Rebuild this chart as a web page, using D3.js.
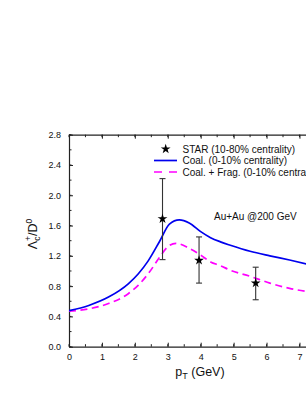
<!DOCTYPE html>
<html lang="en">
<head>
    <meta charset="UTF-8">
    <script src="https://d3js.org/d3.v7.min.js"></script>
    <style>
        body { margin: 0; background: #fff; }
        svg { display: block; font-family: "Liberation Sans", Arial, sans-serif; }
    </style>
</head>
<body>
<script>
    // ---------- data ----------
    const coalPt  = [0, 0.6, 1.2, 1.8, 2.1, 2.4, 2.75, 3.05, 3.35, 3.65, 4.0, 4.3, 4.6, 4.9, 5.5, 6.1, 6.7, 7.3];
    const coalVal = [0.475, 0.545, 0.655, 0.83, 0.96, 1.13, 1.39, 1.62, 1.675, 1.635, 1.52, 1.44, 1.385, 1.34, 1.26, 1.20, 1.145, 1.085];

    const fragPt  = [0, 0.6, 1.2, 1.8, 2.1, 2.4, 2.75, 3.0, 3.25, 3.65, 4.0, 4.3, 4.6, 4.9, 5.5, 6.1, 6.7, 7.3];
    const fragVal = [0.47, 0.50, 0.57, 0.70, 0.81, 0.96, 1.18, 1.32, 1.365, 1.30, 1.21, 1.12, 1.07, 1.01, 0.93, 0.84, 0.77, 0.725];

    const starPt  = [2.84, 3.95, 5.67];
    const starVal = [1.69, 1.14, 0.84];
    const starLo  = [1.15, 0.84, 0.62];
    const starHi  = [2.22, 1.45, 1.05];

    const xTicks = [0, 1, 2, 3, 4, 5, 6, 7];
    const yTicks = [0.0, 0.4, 0.8, 1.2, 1.6, 2.0, 2.4, 2.8];

    const legendLabels = ["STAR (10-80% centrality)", "Coal. (0-10% centrality)", "Coal. + Frag. (0-10% centrality)"];
    const note = "Au+Au @200 GeV";

    // ---------- layout ----------
    const W = 306, H = 396;
    const x = d3.scaleLinear().domain([0, 8]).range([69, 332.4]);
    const y = d3.scaleLinear().domain([0, 2.8]).range([346.7, 134.7]);

    const svg = d3.select("body").append("svg").attr("width", W).attr("height", H);

    svg.append("clipPath").attr("id", "plot")
        .append("rect").attr("x", 69).attr("y", 134.7).attr("width", 264).attr("height", 212);

    // ---------- axes ----------
    const xMinor = d3.range(0, 8.01, 0.5);
    const yMinor = d3.range(0, 2.81, 0.2);
    const axisCol = "#222";

    const gBottom = svg.append("g").attr("transform", `translate(0,${y(0)})`)
        .call(d3.axisBottom(x).tickValues(xTicks).tickFormat(d3.format("d")).tickSizeInner(-4).tickSizeOuter(0).tickPadding(7));
    gBottom.selectAll(".minor").data(xMinor).enter().append("line")
        .attr("x1", d => x(d)).attr("x2", d => x(d)).attr("y1", 0).attr("y2", -2.5).attr("stroke", axisCol);

    const gTop = svg.append("g").attr("transform", `translate(0,${y(2.8)})`)
        .call(d3.axisTop(x).tickValues(xTicks).tickFormat("").tickSizeInner(-4).tickSizeOuter(0));
    gTop.selectAll(".minor").data(xMinor).enter().append("line")
        .attr("x1", d => x(d)).attr("x2", d => x(d)).attr("y1", 0).attr("y2", 2.5).attr("stroke", axisCol);

    const gLeft = svg.append("g").attr("transform", `translate(${x(0)},0)`)
        .call(d3.axisLeft(y).tickValues(yTicks).tickFormat(d3.format(".1f")).tickSizeInner(-4).tickSizeOuter(0).tickPadding(8));
    gLeft.selectAll(".minor").data(yMinor).enter().append("line")
        .attr("x1", 0).attr("x2", 2.5).attr("y1", d => y(d)).attr("y2", d => y(d)).attr("stroke", axisCol);

    svg.selectAll(".domain").attr("stroke", axisCol).attr("stroke-width", 1.2);
    svg.selectAll(".tick line").attr("stroke", axisCol);
    svg.selectAll(".tick text").attr("font-size", 9).attr("fill", "#111")
        .attr("font-family", "'Liberation Sans', Arial, sans-serif");

    // axis titles
    const xt = svg.append("text").attr("x", 200).attr("y", 376).attr("text-anchor", "middle")
        .attr("font-size", 12.5).attr("fill", "#111");
    xt.append("tspan").text("p");
    xt.append("tspan").attr("font-size", 9).attr("dy", 3).text("T");
    xt.append("tspan").attr("dy", -3).text(" (GeV)");

    const yt = svg.append("text").attr("transform", "translate(37,234) rotate(-90)")
        .attr("text-anchor", "middle").attr("font-size", 12.5).attr("fill", "#111");
    yt.append("tspan").text("Λ");
    yt.append("tspan").attr("font-size", 8.5).attr("dy", 3).text("c");
    yt.append("tspan").attr("font-size", 8.5).attr("dx", -4.5).attr("dy", -9).text("+");
    yt.append("tspan").attr("dy", 6).text("/D");
    yt.append("tspan").attr("font-size", 8.5).attr("dy", -5).text("0");

    // ---------- curves ----------
    const line = d3.line().x(d => x(d[0])).y(d => y(d[1])).curve(d3.curveMonotoneX);
    const plot = svg.append("g").attr("clip-path", "url(#plot)");

    plot.append("path").datum(d3.zip(fragPt, fragVal)).attr("d", line)
        .attr("fill", "none").attr("stroke", "#ff00ff").attr("stroke-width", 1.7).attr("stroke-dasharray", "7,4.5");
    plot.append("path").datum(d3.zip(coalPt, coalVal)).attr("d", line)
        .attr("fill", "none").attr("stroke", "#0000ee").attr("stroke-width", 1.7);

    // ---------- STAR points ----------
    const star = d3.symbol().type(d3.symbolStar).size(30);
    const pts = svg.append("g");
    starPt.forEach((p, i) => {
        const g = pts.append("g").attr("stroke", "#333").attr("stroke-width", 1.1);
        g.append("line").attr("x1", x(p)).attr("x2", x(p)).attr("y1", y(starLo[i])).attr("y2", y(starHi[i]));
        g.append("line").attr("x1", x(p) - 3).attr("x2", x(p) + 3).attr("y1", y(starLo[i])).attr("y2", y(starLo[i]));
        g.append("line").attr("x1", x(p) - 3).attr("x2", x(p) + 3).attr("y1", y(starHi[i])).attr("y2", y(starHi[i]));
        pts.append("path").attr("d", star).attr("transform", `translate(${x(p)},${y(starVal[i])})`).attr("fill", "#000");
    });

    // ---------- legend ----------
    const lg = svg.append("g").attr("font-size", 10).attr("fill", "#111");
    const rows = [149, 160.5, 172];
    lg.append("path").attr("d", star).attr("transform", `translate(165.7,${rows[0]})`).attr("fill", "#000");
    lg.append("line").attr("x1", 154).attr("x2", 177).attr("y1", rows[1]).attr("y2", rows[1])
        .attr("stroke", "#0000ee").attr("stroke-width", 1.7);
    lg.append("line").attr("x1", 154).attr("x2", 177).attr("y1", rows[2]).attr("y2", rows[2])
        .attr("stroke", "#ff00ff").attr("stroke-width", 1.7).attr("stroke-dasharray", "8,7");
    legendLabels.forEach((t, i) => {
        lg.append("text").attr("x", 182.5).attr("y", rows[i] + 3.5).text(t);
    });

    svg.append("text").attr("x", 214).attr("y", 220).attr("font-size", 10).attr("fill", "#111").text(note);
</script>
</body>
</html>
